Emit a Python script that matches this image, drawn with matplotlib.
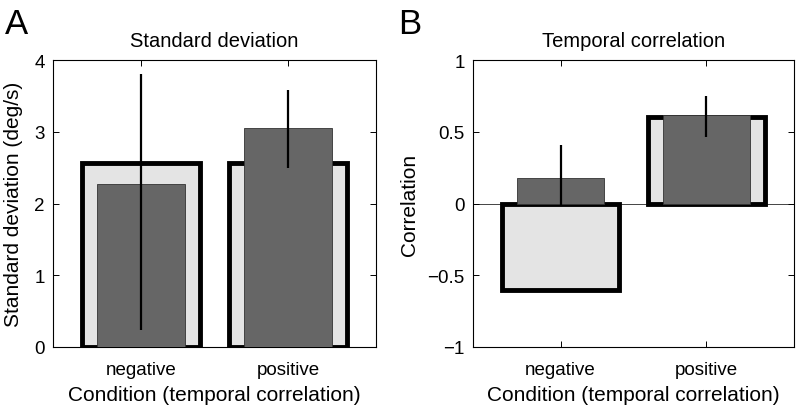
import numpy as np
import matplotlib.pyplot as plt

plt.rcParams['font.family'] = ['Liberation Sans', 'DejaVu Sans']

# Dados
condicoes = ['negative', 'positive']
x = np.array([1, 2])

# Painel A: desvio padrão (deg/s)
sd_alvo = [2.57, 2.57]
sd_medido = [2.27, 3.05]
sd_erro_baixo = [0.23, 2.50]
sd_erro_alto = [3.81, 3.58]

# Painel B: correlação temporal
corr_alvo = [-0.6, 0.6]
corr_medido = [0.18, 0.62]
corr_erro_baixo = [-0.02, 0.46]
corr_erro_alto = [0.41, 0.75]

CINZA_CLARO = '#e4e4e4'
CINZA_ESCURO = '#666666'

fig = plt.figure(figsize=(7.96, 4.06), dpi=100)
ax_a = fig.add_axes([53/796, 58/406, 323/796, 287/406])
ax_b = fig.add_axes([473/796, 58/406, 321/796, 287/406])


def desenha_painel(ax, alvo, medido, baixo, alto):
    ax.bar(x, alvo, width=0.8, color=CINZA_CLARO, edgecolor='black',
           linewidth=3.5, zorder=2)
    ax.bar(x, medido, width=0.6, color=CINZA_ESCURO, edgecolor='#333333',
           linewidth=0.6, zorder=3)
    ax.vlines(x, baixo, alto, color='black', linewidth=1.6, zorder=4)
    ax.set_xlim(0.4, 2.6)
    ax.set_xticks(x)
    ax.set_xticklabels(condicoes)
    ax.tick_params(direction='in', top=True, right=True, length=4,
                   width=0.7, labelsize=13.5)
    ax.tick_params(axis='x', pad=10)
    ax.tick_params(axis='y', pad=6)
    for s in ax.spines.values():
        s.set_linewidth(0.8)
    ax.set_xlabel('Condition (temporal correlation)', fontsize=15, labelpad=5)


desenha_painel(ax_a, sd_alvo, sd_medido, sd_erro_baixo, sd_erro_alto)
ax_a.set_ylim(0, 4)
ax_a.set_yticks([0, 1, 2, 3, 4])
ax_a.set_ylabel('Standard deviation (deg/s)', fontsize=15, labelpad=8)
ax_a.set_title('Standard deviation', fontsize=14.5, pad=10)

desenha_painel(ax_b, corr_alvo, corr_medido, corr_erro_baixo, corr_erro_alto)
ax_b.axhline(0, color='#444444', linewidth=0.7, zorder=1)
ax_b.set_ylim(-1, 1)
ax_b.set_yticks([-1, -0.5, 0, 0.5, 1])
ax_b.set_yticklabels(['\u22121', '\u22120.5', '0', '0.5', '1'])
ax_b.set_ylabel('Correlation', fontsize=15, labelpad=6)
ax_b.set_title('Temporal correlation', fontsize=14.5, pad=10)

fig.text(5/796, 1 - 8/406, 'A', fontsize=25, va='top', ha='left')
fig.text(398/796, 1 - 8/406, 'B', fontsize=25, va='top', ha='left')

fig.savefig('out.png', dpi=100)
